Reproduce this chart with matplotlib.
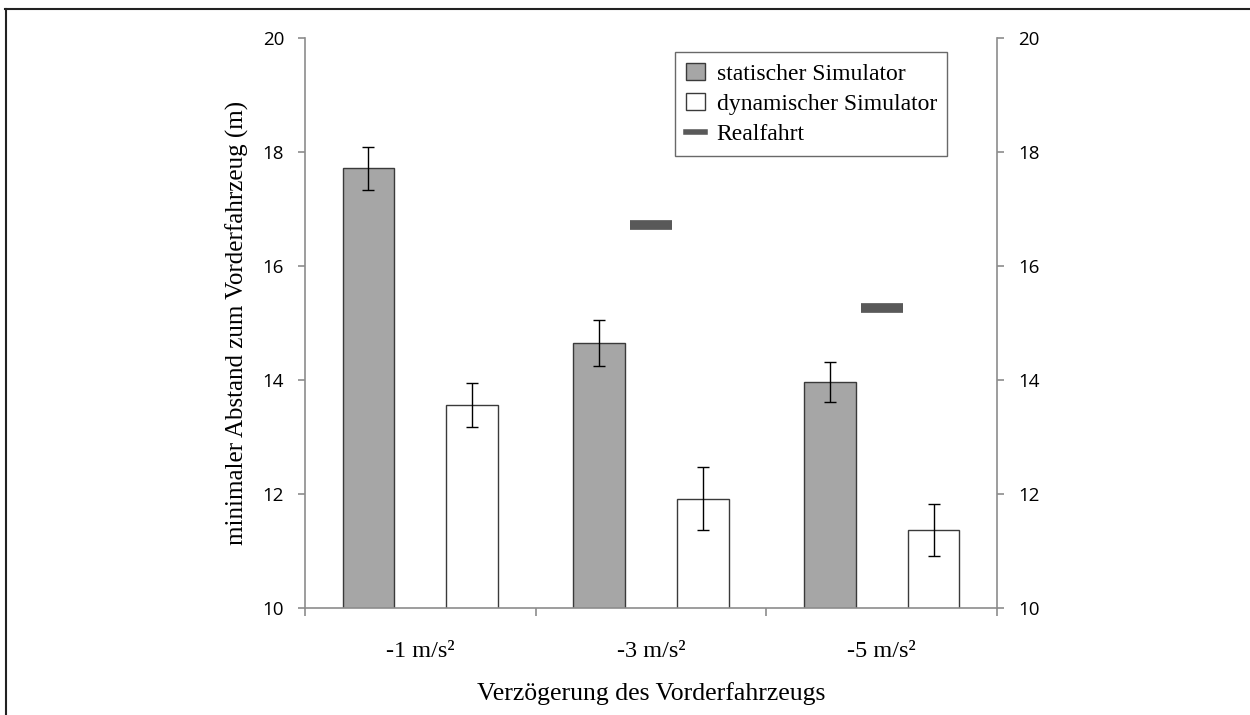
import numpy as np
import matplotlib
matplotlib.use('Agg')
import matplotlib.pyplot as plt
from matplotlib.lines import Line2D
from matplotlib.patches import Patch

# --- data ---
categories = ['-1 m/s²', '-3 m/s²', '-5 m/s²']
static_mean = [17.71, 14.65, 13.97]
static_err = [0.37, 0.41, 0.35]
dynamic_mean = [13.56, 11.92, 11.37]
dynamic_err = [0.39, 0.56, 0.46]
real_x = [1, 2]
real_val = [16.71, 15.26]

SERIF = ['Liberation Serif', 'DejaVu Serif']
SANS = ['Open Sans', 'DejaVu Sans']
AXCOL = '#8c8c8c'

fig = plt.figure(figsize=(12.5, 7.15), dpi=100)
ax = fig.add_axes([0.244, 0.1497, 0.5536, 0.7973])

x = np.arange(len(categories))
w = 0.224
off = 0.225
ekw = dict(ecolor='black', elinewidth=1.0, capsize=4.6, capthick=1.0)
ax.bar(x - off, static_mean, w, color='#a6a6a6', edgecolor='#3a3a3a',
       linewidth=1.0, yerr=static_err, error_kw=ekw, zorder=2)
ax.bar(x + off, dynamic_mean, w, color='white', edgecolor='#3a3a3a',
       linewidth=1.0, yerr=dynamic_err, error_kw=ekw, zorder=2)
ax.plot(real_x, real_val, ls='none', marker='_', ms=30, mew=7, color='#595959', zorder=3)

ax.set_ylim(10, 20)
ax.set_xlim(-0.5, 2.5)
ax.set_yticks(np.arange(10, 21, 2))
ax.set_xticks(x)
ax.set_xticklabels(categories, family=SERIF, fontsize=17.5)
ax.set_xticks([-0.5, 0.5, 1.5, 2.5], minor=True)
ax.tick_params(axis='x', which='major', length=0, pad=24)
ax.tick_params(axis='x', which='minor', length=6, color=AXCOL, width=1.2)
ax.tick_params(axis='y', length=5, color=AXCOL, width=1.2, pad=10, labelsize=13.5)
for lab in ax.get_yticklabels():
    lab.set_family(SANS)

ax.spines['top'].set_visible(False)
ax.spines['right'].set_visible(False)
for s in ['left', 'bottom']:
    ax.spines[s].set_color(AXCOL)
    ax.spines[s].set_linewidth(1.2)

# right-hand duplicate axis
ax2 = ax.twinx()
ax2.set_ylim(10, 20)
ax2.set_yticks(np.arange(10, 21, 2))
ax2.tick_params(axis='y', length=5, color=AXCOL, width=1.2, pad=10, labelsize=13.5)
for lab in ax2.get_yticklabels():
    lab.set_family(SANS)
for s in ['top', 'left', 'bottom']:
    ax2.spines[s].set_visible(False)
ax2.spines['right'].set_color(AXCOL)
ax2.spines['right'].set_linewidth(1.2)

ax.set_ylabel('minimaler Abstand zum Vorderfahrzeug (m)', family=SERIF, fontsize=18, labelpad=10)
ax.set_xlabel('Verzögerung des Vorderfahrzeugs', family=SERIF, fontsize=18.5, labelpad=14)

handles = [Patch(facecolor='#a6a6a6', edgecolor='#3a3a3a', linewidth=1.0),
           Patch(facecolor='white', edgecolor='#3a3a3a', linewidth=1.0),
           Line2D([], [], color='#595959', lw=4)]
leg = ax.legend(handles, ['statischer Simulator', 'dynamischer Simulator', 'Realfahrt'],
                loc='upper left', bbox_to_anchor=(0.535, 0.975), borderaxespad=0,
                frameon=True, fancybox=False,
                prop={'family': SERIF, 'size': 17}, handlelength=0.8, handleheight=0.75,
                handletextpad=0.5, borderpad=0.45, labelspacing=0.35)
leg.get_frame().set_edgecolor('#444444')
leg.get_frame().set_linewidth(1.0)

# outer frame (top and left edges visible in the reference)
fig.add_artist(Line2D([0.004, 1.0], [0.987, 0.987], color='#222222', lw=1.5, transform=fig.transFigure))
fig.add_artist(Line2D([0.0048, 0.0048], [0.0, 0.987], color='#222222', lw=1.5, transform=fig.transFigure))

plt.savefig('out.png', dpi=100)
